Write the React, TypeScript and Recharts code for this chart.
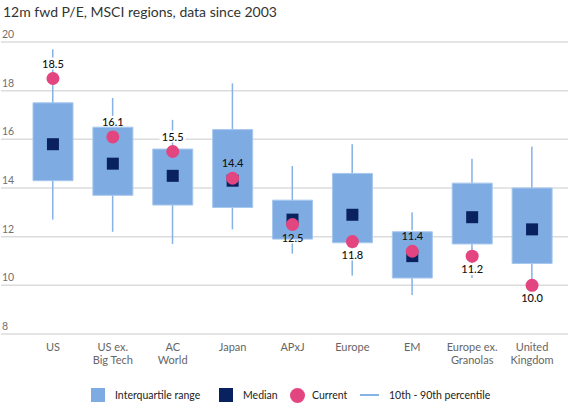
import React from "react";
import { ComposedChart, Bar, Line, XAxis, YAxis, CartesianGrid, LabelList } from "recharts";

const categories = [
  "US",
  "US ex.\nBig Tech",
  "AC\nWorld",
  "Japan",
  "APxJ",
  "Europe",
  "EM",
  "Europe ex.\nGranolas",
  "United\nKingdom",
];
const p10 = [12.7, 12.2, 11.7, 12.3, 11.3, 10.4, 9.6, 10.3, 10.1];
const p90 = [19.7, 17.7, 16.8, 18.3, 14.9, 15.8, 13.0, 15.2, 15.7];
const q1 = [14.3, 13.7, 13.3, 13.2, 11.9, 11.75, 10.3, 11.7, 10.9];
const q3 = [17.5, 16.5, 15.6, 16.4, 13.5, 14.6, 12.2, 14.2, 14.0];
const median = [15.8, 15.0, 14.5, 14.3, 12.7, 12.9, 11.2, 12.8, 12.3];
const current = [18.5, 16.1, 15.5, 14.4, 12.5, 11.8, 11.4, 11.2, 10.0];
const labelSide = ["above", "above", "above", "above", "below", "below", "above", "below", "below"];
const yTicks = [8, 10, 12, 14, 16, 18, 20];

const data = categories.map((name, i) => ({
  name,
  whisker: [p10[i], p90[i]],
  box: [q1[i], q3[i]],
  median: median[i],
  current: current[i],
}));

const FONT = "Lato, 'Noto Sans', sans-serif";
const BOX = "#7EACE2";
const BOX_EDGE = "#A6C7EE";
const WHISKER = "#86B2E6";
const NAVY = "#0A2160";
const PINK = "#E2457F";

const YTick = (props: any) => {
  const { y, payload } = props;
  return (
    <text x={2} y={y - 4} fill="#707070" fontSize={10.5} fontFamily={FONT} textAnchor="start">
      {payload.value}
    </text>
  );
};

const XTick = (props: any) => {
  const { x, y, payload } = props;
  const lines = String(payload.value).split("\n");
  return (
    <text x={x} y={y} fill="#666" fontSize={11} fontFamily={FONT} textAnchor="middle">
      {lines.map((l, i) => (
        <tspan key={i} x={x} dy={i === 0 ? 9 : 13}>
          {l}
        </tspan>
      ))}
    </text>
  );
};

const MedianDot = (props: any) => {
  const { cx, cy } = props;
  if (cx == null || cy == null) return null;
  return <rect x={cx - 6} y={cy - 6} width={12} height={12} fill={NAVY} />;
};

const CurrentDot = (props: any) => {
  const { cx, cy } = props;
  if (cx == null || cy == null) return null;
  return <circle cx={cx} cy={cy} r={6.5} fill={PINK} />;
};

const labelCenter = (y: number, index: number) => (labelSide[index] === "above" ? y - 15 : y + 13);

// Whisker line; also lays a white patch behind the current-value label (drawn under the boxes)
const WhiskerShape = (props: any) => {
  const { x, y, width, height, index } = props;
  if (x == null || y == null) return null;
  const cx = x + width / 2;
  const lo = p10[index];
  const hi = p90[index];
  const ppu = height / (hi - lo);
  const curY = y + (hi - current[index]) * ppu;
  const txt = current[index].toFixed(1);
  const w = txt.length * 6 + 2;
  const ly = labelCenter(curY, index);
  return (
    <g>
      <rect x={cx - 0.75} y={y} width={1.5} height={height} fill={WHISKER} />
      <rect x={cx - w / 2} y={ly - 6} width={w} height={12} fill="#fff" />
    </g>
  );
};

const CurrentLabel = (props: any) => {
  const { x, y, value, index } = props;
  const txt = Number(value).toFixed(1);
  const cy = labelCenter(y, index);
  return (
    <text x={x} y={cy + 4} fill="#111" fontSize={11} fontFamily={FONT} fontWeight={500} textAnchor="middle">
      {txt}
    </text>
  );
};

const legendItems = [
  { label: "Interquartile range", kind: "box", left: 91 },
  { label: "Median", kind: "median", left: 219 },
  { label: "Current", kind: "current", left: 290 },
  { label: "10th - 90th percentile", kind: "line", left: 360 },
];

const LegendIcon = ({ kind }: { kind: string }) => {
  if (kind === "box") return <div style={{ width: 14, height: 14, background: BOX }} />;
  if (kind === "median") return <div style={{ width: 14, height: 14, background: NAVY }} />;
  if (kind === "current") return <div style={{ width: 15, height: 15, borderRadius: "50%", background: PINK }} />;
  return <div style={{ width: 19, height: 1.5, background: WHISKER }} />;
};

export default function App() {
  return (
    <div style={{ position: "absolute", left: 0, top: 0, width: 570, height: 416, background: "#fff", fontFamily: FONT }}>
      <div style={{ position: "absolute", left: 3, top: 3, fontSize: 14, color: "#333", whiteSpace: "nowrap" }}>
        12m fwd P/E, MSCI regions, data since 2003
      </div>
      <ComposedChart width={570} height={416} data={data} margin={{ top: 42, right: 2, bottom: 52, left: 0 }}>
        <CartesianGrid horizontal vertical={false} stroke="#dcdcdc" strokeWidth={1.5} />
        <XAxis
          xAxisId="main"
          dataKey="name"
          interval={0}
          axisLine={false}
          tickLine={false}
          height={30}
          padding={{ left: 22, right: 6 }}
          tick={<XTick />}
        />
        <XAxis xAxisId="w" dataKey="name" hide padding={{ left: 22, right: 6 }} />
        <YAxis
          domain={[8, 20]}
          ticks={yTicks}
          interval={0}
          width={1}
          axisLine={false}
          tickLine={false}
          tick={<YTick />}
        />
        <Bar
          xAxisId="w"
          dataKey="whisker"
          barSize={1.5}
          fill={WHISKER}
          shape={<WhiskerShape />}
          isAnimationActive={false}
        />
        <Bar
          xAxisId="main"
          dataKey="box"
          barSize={40}
          fill={BOX}
          stroke={BOX_EDGE}
          strokeWidth={1}
          isAnimationActive={false}
        />
        <Line
          xAxisId="main"
          dataKey="median"
          stroke="none"
          dot={<MedianDot />}
          activeDot={false}
          isAnimationActive={false}
        />
        <Line
          xAxisId="main"
          dataKey="current"
          stroke="none"
          dot={<CurrentDot />}
          activeDot={false}
          isAnimationActive={false}
        >
          <LabelList dataKey="current" content={<CurrentLabel />} />
        </Line>
      </ComposedChart>
      {legendItems.map((it) => (
        <div
          key={it.label}
          style={{
            position: "absolute",
            left: it.left,
            top: 387,
            height: 16,
            display: "flex",
            alignItems: "center",
            gap: it.kind === "current" ? 7 : 10,
            fontSize: 10.5,
            color: "#222",
            whiteSpace: "nowrap",
          }}
        >
          <LegendIcon kind={it.kind} />
          <span>{it.label}</span>
        </div>
      ))}
    </div>
  );
}
